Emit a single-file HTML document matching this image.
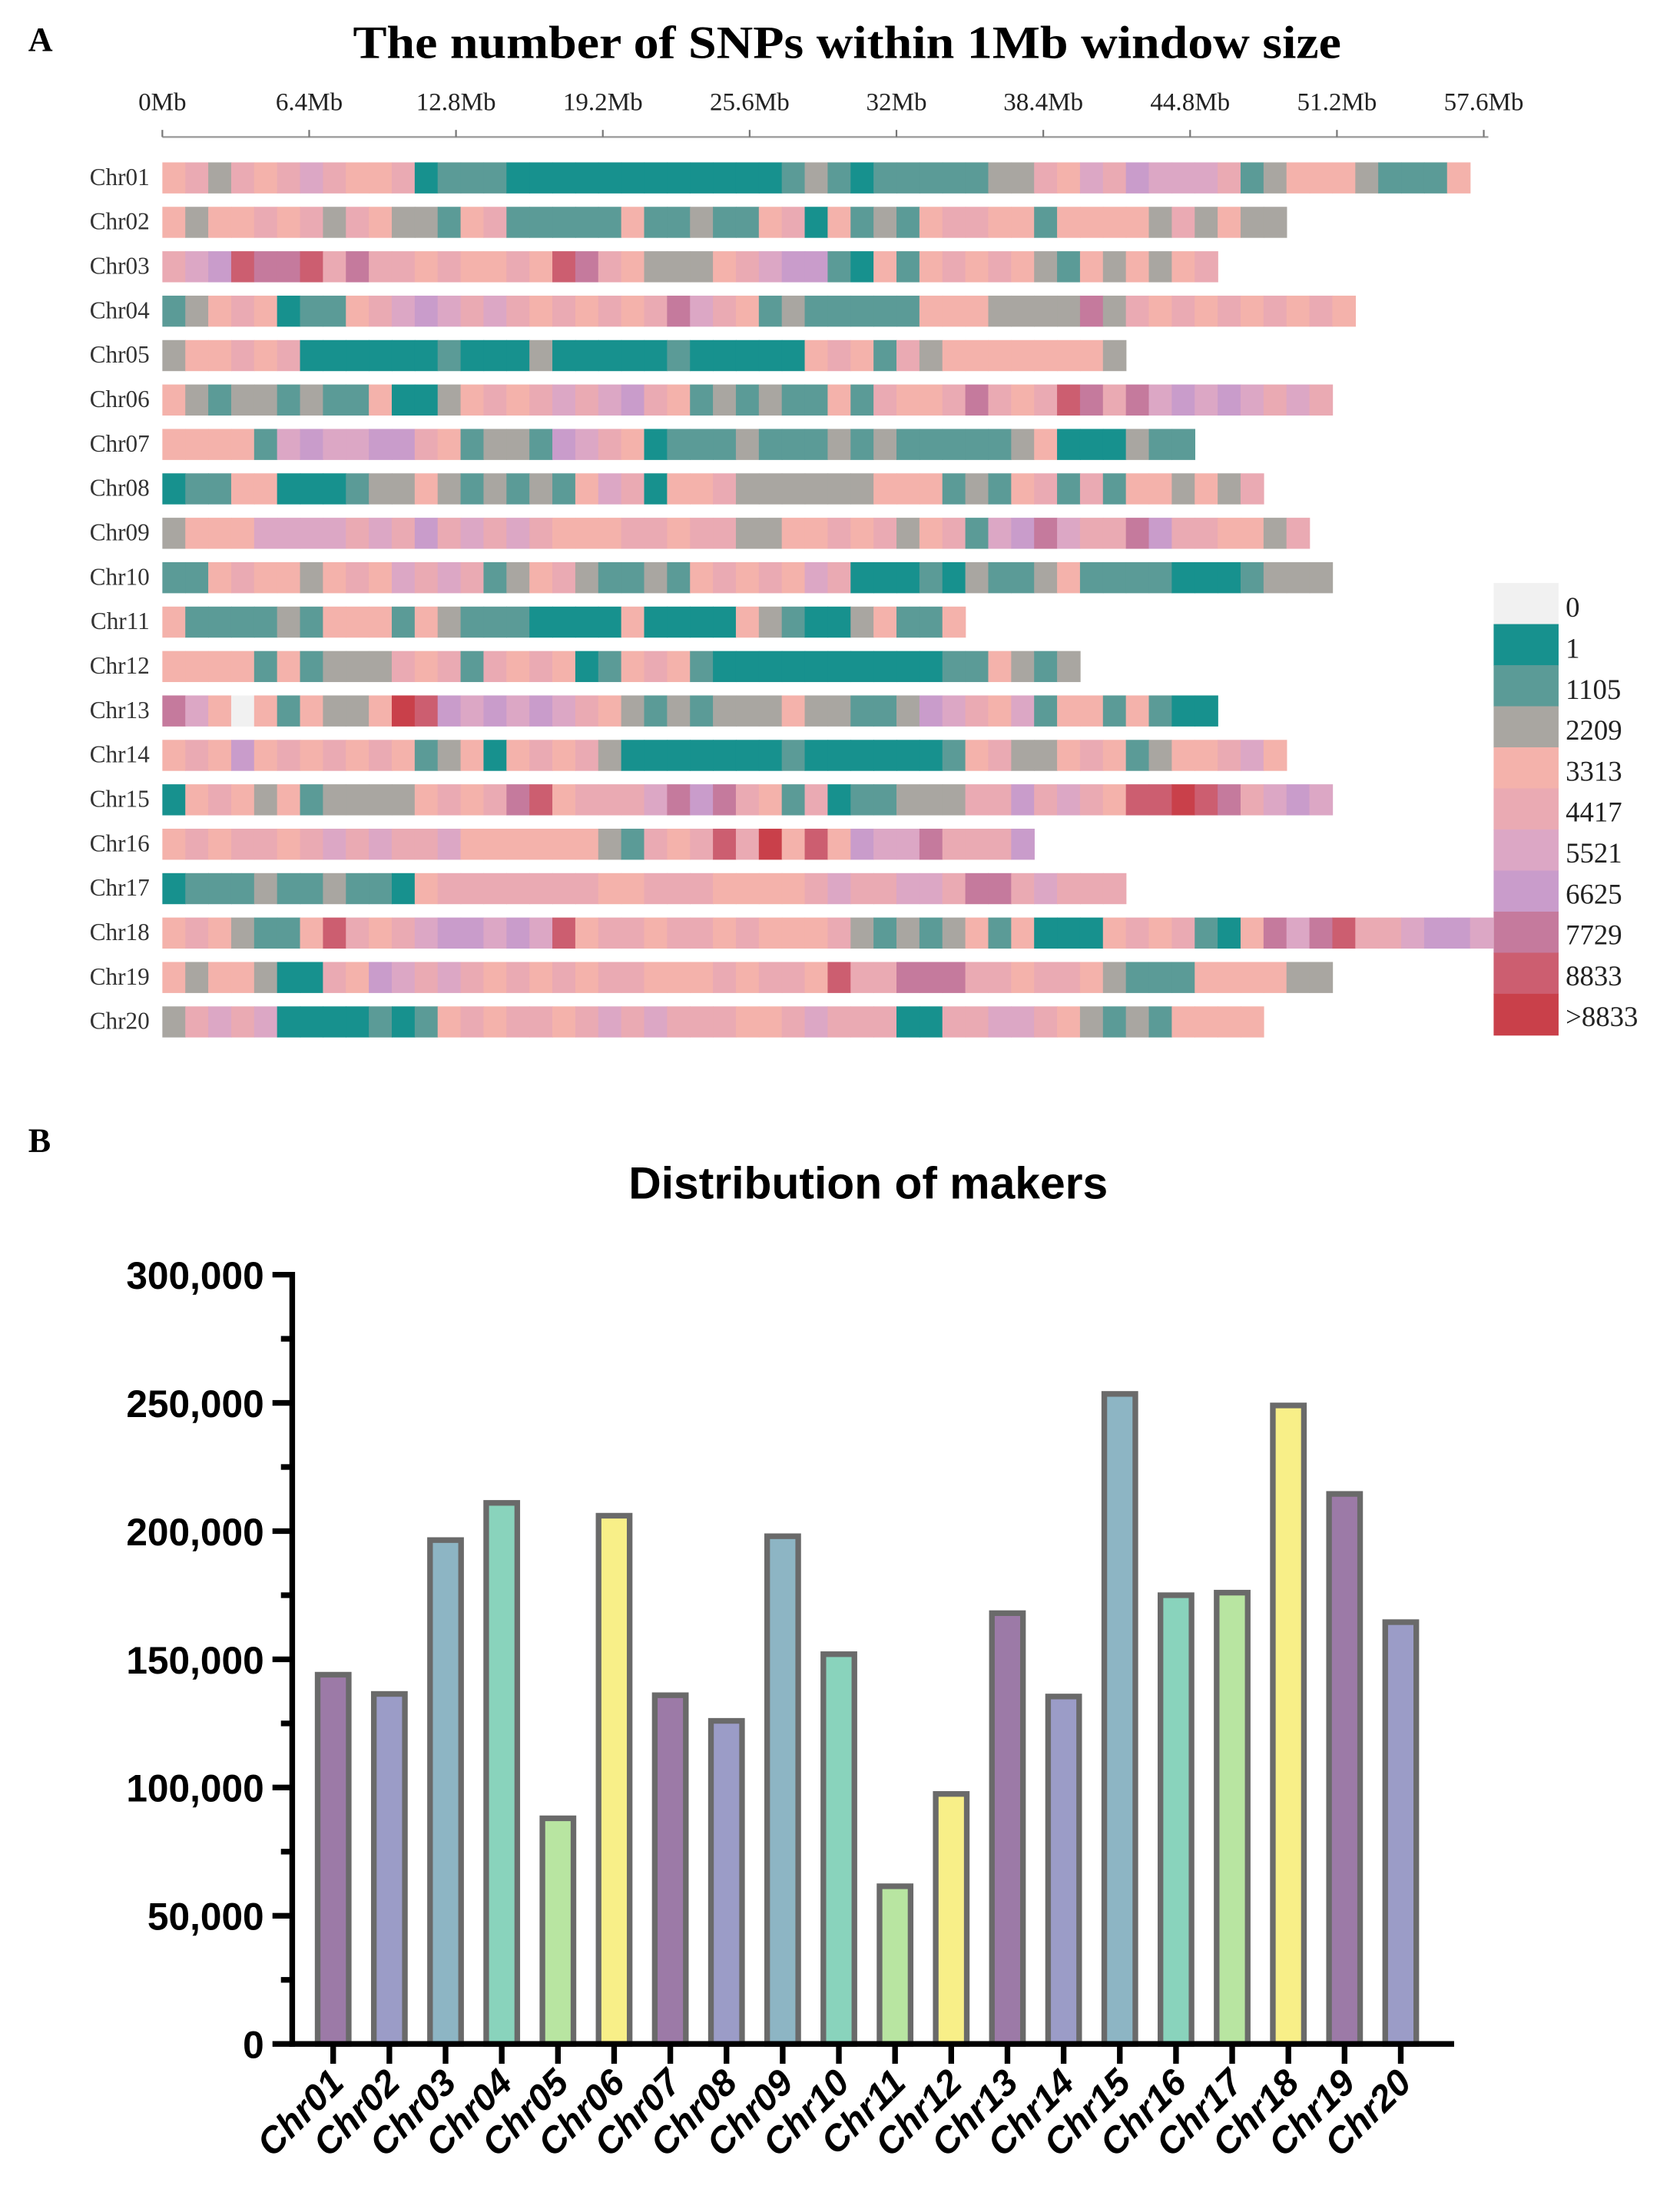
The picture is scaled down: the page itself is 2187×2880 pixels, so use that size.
<!DOCTYPE html>
<html><head><meta charset="utf-8"><style>
html,body{margin:0;padding:0;background:#fff}
svg{display:block}
</style></head><body>
<svg id="fig" width="2187" height="2880" viewBox="0 0 1190 1567" xmlns="http://www.w3.org/2000/svg">
<rect width="1190" height="1567" fill="#fff"/>
<text x="20" y="36" font-family="Liberation Serif, serif" font-weight="bold" font-size="24">A</text>
<text x="250" y="41" textLength="700" lengthAdjust="spacingAndGlyphs" font-family="Liberation Serif, serif" font-weight="bold" font-size="33">The number of SNPs within 1Mb window size</text>
<g id="heat"></g>
<g id="legend"></g>
<text x="20" y="816" font-family="Liberation Serif, serif" font-weight="bold" font-size="24">B</text>
<text x="615" y="849" text-anchor="middle" font-family="Liberation Sans, sans-serif" font-weight="bold" font-size="32">Distribution of makers</text>
<g id="bars"></g>
</svg>
<script>
const NS='http://www.w3.org/2000/svg';
function mk(tag,attrs,parent){const e=document.createElementNS(NS,tag);for(const k in attrs)e.setAttribute(k,attrs[k]);parent.appendChild(e);return e;}

// ---------- Panel A data ----------
const chromNames=['Chr01','Chr02','Chr03','Chr04','Chr05','Chr06','Chr07','Chr08','Chr09','Chr10','Chr11','Chr12','Chr13','Chr14','Chr15','Chr16','Chr17','Chr18','Chr19','Chr20'];
const windowBins=[
"453545654451222111111111111232122222335465766652344432224 4".replace(/ /g,'').slice(0,57),
"4344545354332452222242232245142324554424444353433",
"5679889585545445498543334567721424545432434345",
"2345412245676565454545865423222224443333835454545454",
"344545111111211131111121111145425344444443",
"432332322411345456567542323224254458545985867676565 5".replace(/ /g,'').slice(0,51),
"444426766775423327654122232223232222234111322",
"122441112334323232465144533333344423245252443435",
"34446666565756565444554553344545345267865587554435 4".replace(/ /g,'').slice(0,50),
"224544345465652345322324545465111213223422221112333",
"42222324442432221111411114321134224",
"4444242333545254541245421111111111224323 4".replace(/ /g,'').slice(0,40),
"8640424334a97676765432323334332237654624424211 ".trim(),
"4547454545423414545311111112111111245334542344564",
"1454342333345458945556878542512233355756549 9a985676".replace(/ /g,''),
"45455456565564444443254595a49476685557",
"122232232214555555544555444456556658856555",
"4543224954567767694554554544453232342411145452148689556776",
"434431154765654545455444545549558885545543222444433",
"356561111212454554565655544565551155665432324444"
];
const binLabels=['0','1','1105','2209','3313','4417','5521','6625','7729','8833','>8833'];
const binColors=['#f1f1f1','#17918e','#5b9b97','#a9a6a1','#f4b2ab','#eaaab3','#dca7c5','#c99ccb','#c57a9d','#cc5e70','#c9404a'];
const axisTicks=[0,6.4,12.8,19.2,25.6,32,38.4,44.8,51.2,57.6];
const axisTickLabels=['0Mb','6.4Mb','12.8Mb','19.2Mb','25.6Mb','32Mb','38.4Mb','44.8Mb','51.2Mb','57.6Mb'];

const heat=document.getElementById('heat');
const xMb=mb=>115+mb*16.25;
const yRow=i=>126+i*31.47;
mk('line',{x1:115,y1:97,x2:xMb(57.8),y2:97,stroke:'#999','stroke-width':1.2},heat);
axisTicks.forEach((t,i)=>{
  const l=mk('line',{x1:xMb(t),y1:97,x2:xMb(t),y2:92,stroke:'#777','stroke-width':1.2},heat);
  
  
  const tx=mk('text',{x:xMb(t),y:78,'text-anchor':'middle','font-family':'Liberation Serif, serif','font-size':18,fill:'#222'},heat);
  tx.textContent=axisTickLabels[i];
  
  
});
const code=c=>c==='a'?10:parseInt(c,10);
chromNames.forEach((n,i)=>{
  const g=mk('g',{},heat);
  
  
  const lb=mk('text',{x:106,y:yRow(i)+5,'text-anchor':'end','font-family':'Liberation Serif, serif','font-size':17,fill:'#333'},g);
  lb.textContent=n;
  
  
  const s=windowBins[i];
  for(let k=0;k<s.length;k++){
    const r=mk('rect',{x:xMb(k),y:yRow(i)-11,width:16.25+0.4,height:22,fill:binColors[code(s[k])]},g);
    
    
  }
});
const leg=document.getElementById('legend');
binLabels.forEach((b,i)=>{
  const r=mk('rect',{x:1058,y:413+i*29.1,width:46,height:29.6,fill:binColors[i]},leg);
  
  
  const t=mk('text',{x:1109,y:437+i*29,'font-family':'Liberation Serif, serif','font-size':20,fill:'#222'},leg);
  t.textContent=b;
  
  
});

// ---------- Panel B data ----------
const barCategories=['Chr01','Chr02','Chr03','Chr04','Chr05','Chr06','Chr07','Chr08','Chr09','Chr10','Chr11','Chr12','Chr13','Chr14','Chr15','Chr16','Chr17','Chr18','Chr19','Chr20'];
const markerCounts=[144000,136500,196500,211000,88000,206000,136000,126000,198000,152000,61500,97500,168000,135500,253500,175000,176000,249000,214500,164500];
const yTickValues=[0,50000,100000,150000,200000,250000,300000];
const yTickLabels=['0','50,000','100,000','150,000','200,000','250,000','300,000'];
const barPalette=['#9c7aa7','#9b9cc7','#8db5c4','#89d3bc','#b8e5a1','#f8ef88'];

const bars=document.getElementById('bars');
const yV=v=>1448-v/300000*545;
const xC=i=>236+i*39.8;
barCategories.forEach((c,i)=>{
  const r=mk('rect',{x:xC(i)-11,y:yV(markerCounts[i]),width:22,height:yV(0)-yV(markerCounts[i]),fill:barPalette[i%6],stroke:'#6a6a6a','stroke-width':4},bars);
  
  
});
mk('line',{x1:207,y1:yV(300000)-2,x2:207,y2:1450,stroke:'#000','stroke-width':4},bars);
mk('line',{x1:205,y1:1448,x2:1030,y2:1448,stroke:'#000','stroke-width':4},bars);
for(let v=0;v<=300000;v+=25000){
  const major=v%50000===0;
  const l=mk('line',{x1:major?193:199,y1:yV(v),x2:207,y2:yV(v),stroke:'#000','stroke-width':4},bars);
  
  
}
yTickValues.forEach((v,i)=>{
  const t=mk('text',{x:187,y:yV(v)+10,'text-anchor':'end','font-family':'Liberation Sans, sans-serif','font-weight':'bold','font-size':27},bars);
  t.textContent=yTickLabels[i];
  
  
});
barCategories.forEach((c,i)=>{
  const l=mk('line',{x1:xC(i),y1:1448,x2:xC(i),y2:1462,stroke:'#000','stroke-width':4},bars);
  
  
  const t=mk('text',{x:0,y:0,'text-anchor':'end','font-family':'Liberation Sans, sans-serif','font-weight':'bold','font-style':'italic','font-size':26,transform:`translate(${xC(i)+9},${1477}) rotate(-45)`},bars);
  t.textContent=c;
  
  
});
</script>
</body></html>
